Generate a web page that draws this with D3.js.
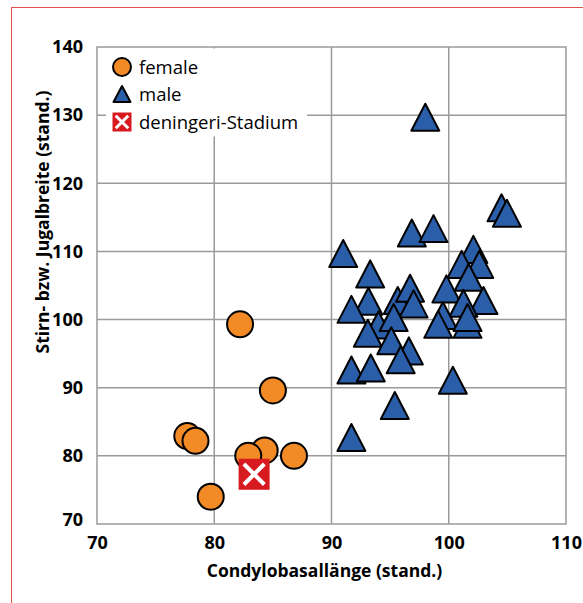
<!DOCTYPE html>
<html>
<head>
<meta charset="utf-8">
<script src="https://cdn.jsdelivr.net/npm/d3@7"></script>
<style>
  html, body { margin: 0; padding: 0; background: #fff; }
  svg { display: block; }
  text { font-family: "Open Sans", "Noto Sans", sans-serif; fill: #000; }
</style>
</head>
<body>
<div id="chart"></div>
<script>
// ---- data ----
const femaleX = [82.2, 85.0, 77.7, 78.4, 84.3, 82.9, 86.8, 79.7];
const femaleY = [99.3, 89.6, 82.9, 82.2, 80.8, 80.0, 80.0, 74.0];

const maleX = [98.0, 96.85, 98.7, 104.5, 104.96, 91.0, 102.1, 101.1, 102.6, 101.7,
               99.8, 102.96, 101.25, 99.5, 99.1, 101.6, 101.6, 93.3, 93.15, 91.7,
               95.65, 96.7, 97.0, 94.0, 93.1, 95.3, 95.1, 96.6, 95.9, 91.7,
               93.35, 95.4, 91.7, 100.35];
const maleY = [129.7, 112.7, 113.35, 116.4, 115.6, 109.7, 110.3, 108.1, 108.1, 106.2,
               104.5, 102.8, 102.4, 100.6, 99.3, 99.3, 100.3, 106.7, 102.7, 101.5,
               102.8, 104.6, 102.3, 99.2, 98.0, 100.3, 96.9, 95.4, 94.1, 92.6,
               92.9, 87.4, 82.7, 91.1];

const deningeriX = [83.4];
const deningeriY = [77.3];

const xTicks = [70, 80, 90, 100, 110];
const yTicks = [70, 80, 90, 100, 110, 120, 130, 140];
const legendLabels = ["female", "male", "deningeri-Stadium"];
const xTitle = "Condylobasallänge (stand.)";
const yTitle = "Stirn- bzw. Jugalbreite (stand.)";

// ---- layout ----
const W = 583, H = 603;
const plot = { left: 97, right: 566, top: 47, bottom: 524 };

const svg = d3.select("#chart").append("svg")
  .attr("width", W).attr("height", H);

// outer red frame
svg.append("rect")
  .attr("x", 11.5).attr("y", 7.5)
  .attr("width", W + 10).attr("height", H + 10)
  .attr("fill", "none").attr("stroke", "#e2504f").attr("stroke-width", 1)
  .attr("shape-rendering", "crispEdges");

const x = d3.scaleLinear().domain([70, 110]).range([plot.left, plot.right]);
const y = d3.scaleLinear().domain([70, 140]).range([plot.bottom, plot.top]);

const gridColor = "#9a9a9a";

// grid
svg.append("g").selectAll("line").data(xTicks.slice(1, -1)).join("line")
  .attr("x1", d => x(d)).attr("x2", d => x(d))
  .attr("y1", plot.top).attr("y2", plot.bottom)
  .attr("stroke", gridColor).attr("stroke-width", 1.5);
svg.append("g").selectAll("line").data(yTicks.slice(1, -1)).join("line")
  .attr("x1", plot.left).attr("x2", plot.right)
  .attr("y1", d => y(d)).attr("y2", d => y(d))
  .attr("stroke", gridColor).attr("stroke-width", 1.5);

// frame
svg.append("rect")
  .attr("x", plot.left).attr("y", plot.top)
  .attr("width", plot.right - plot.left).attr("height", plot.bottom - plot.top)
  .attr("fill", "none").attr("stroke", gridColor).attr("stroke-width", 1.5);

// axes (labels only via d3 axes)
const xAxis = svg.append("g")
  .attr("transform", `translate(0,${plot.bottom})`)
  .call(d3.axisBottom(x).tickValues(xTicks).tickSize(0).tickPadding(12));
xAxis.select(".domain").remove();
xAxis.selectAll("text")
  .attr("font-size", 18).attr("font-weight", 700)
  .attr("font-family", "'Open Sans', sans-serif").attr("fill", "#000");

const yAxis = svg.append("g")
  .attr("transform", `translate(${plot.left},0)`)
  .call(d3.axisLeft(y).tickValues(yTicks).tickSize(0).tickPadding(14));
yAxis.select(".domain").remove();
yAxis.selectAll("text")
  .attr("font-size", 18).attr("font-weight", 700)
  .attr("font-family", "'Open Sans', sans-serif").attr("fill", "#000")
  .attr("dy", d => d === 70 ? "0.1em" : "0.32em");

// axis titles
svg.append("text")
  .attr("x", (plot.left + plot.right) / 2 - 7).attr("y", 577)
  .attr("text-anchor", "middle")
  .attr("font-size", 17.5).attr("font-weight", 700)
  .text(xTitle);

svg.append("text")
  .attr("transform", "translate(49,222) rotate(-90)")
  .attr("text-anchor", "middle")
  .attr("font-size", 17.5).attr("font-weight", 700)
  .text(yTitle);

// legend box (white background hides grid)
svg.append("rect")
  .attr("x", 106).attr("y", 48.5).attr("width", 201).attr("height", 88)
  .attr("fill", "#fff");

const orange = "#f28a26", blue = "#2b5ea8", red = "#d71920";

function triPath(w, h) {
  return `M0,${-h / 2}L${w / 2},${h / 2}L${-w / 2},${h / 2}Z`;
}

// data points
const pts = svg.append("g");
pts.selectAll("circle").data(femaleX.map((d, i) => [d, femaleY[i]])).join("circle")
  .attr("cx", d => x(d[0])).attr("cy", d => y(d[1])).attr("r", 13)
  .attr("fill", orange).attr("stroke", "#000").attr("stroke-width", 2);

pts.selectAll("path.male").data(maleX.map((d, i) => [d, maleY[i]])).join("path")
  .attr("class", "male")
  .attr("d", triPath(28, 27))
  .attr("transform", d => `translate(${x(d[0])},${y(d[1])})`)
  .attr("fill", blue).attr("stroke", "#000").attr("stroke-width", 2)
  .attr("stroke-linejoin", "round");

function drawSquare(g, cx, cy, s, sw) {
  const gg = g.append("g").attr("transform", `translate(${cx},${cy})`);
  gg.append("rect").attr("x", -s / 2).attr("y", -s / 2).attr("width", s).attr("height", s)
    .attr("fill", red);
  const k = s / 2 - s * 0.17;
  gg.append("line").attr("x1", -k).attr("y1", -k).attr("x2", k).attr("y2", k)
    .attr("stroke", "#fff").attr("stroke-width", sw);
  gg.append("line").attr("x1", -k).attr("y1", k).attr("x2", k).attr("y2", -k)
    .attr("stroke", "#fff").attr("stroke-width", sw);
}
deningeriX.forEach((d, i) => drawSquare(pts, x(d), y(deningeriY[i]), 31, 4));

// legend
const lg = svg.append("g");
lg.append("circle").attr("cx", 122).attr("cy", 67).attr("r", 9)
  .attr("fill", orange).attr("stroke", "#000").attr("stroke-width", 2);
lg.append("path").attr("d", triPath(17, 16)).attr("transform", "translate(122,94)")
  .attr("fill", blue).attr("stroke", "#000").attr("stroke-width", 2)
  .attr("stroke-linejoin", "round");
drawSquare(lg, 122, 122, 19, 3);
const ly = [74, 100.5, 128.5];
legendLabels.forEach((t, i) => {
  lg.append("text").attr("x", 139).attr("y", ly[i])
    .attr("font-size", 18.5).attr("font-weight", 500).text(t);
});
</script>
</body>
</html>
